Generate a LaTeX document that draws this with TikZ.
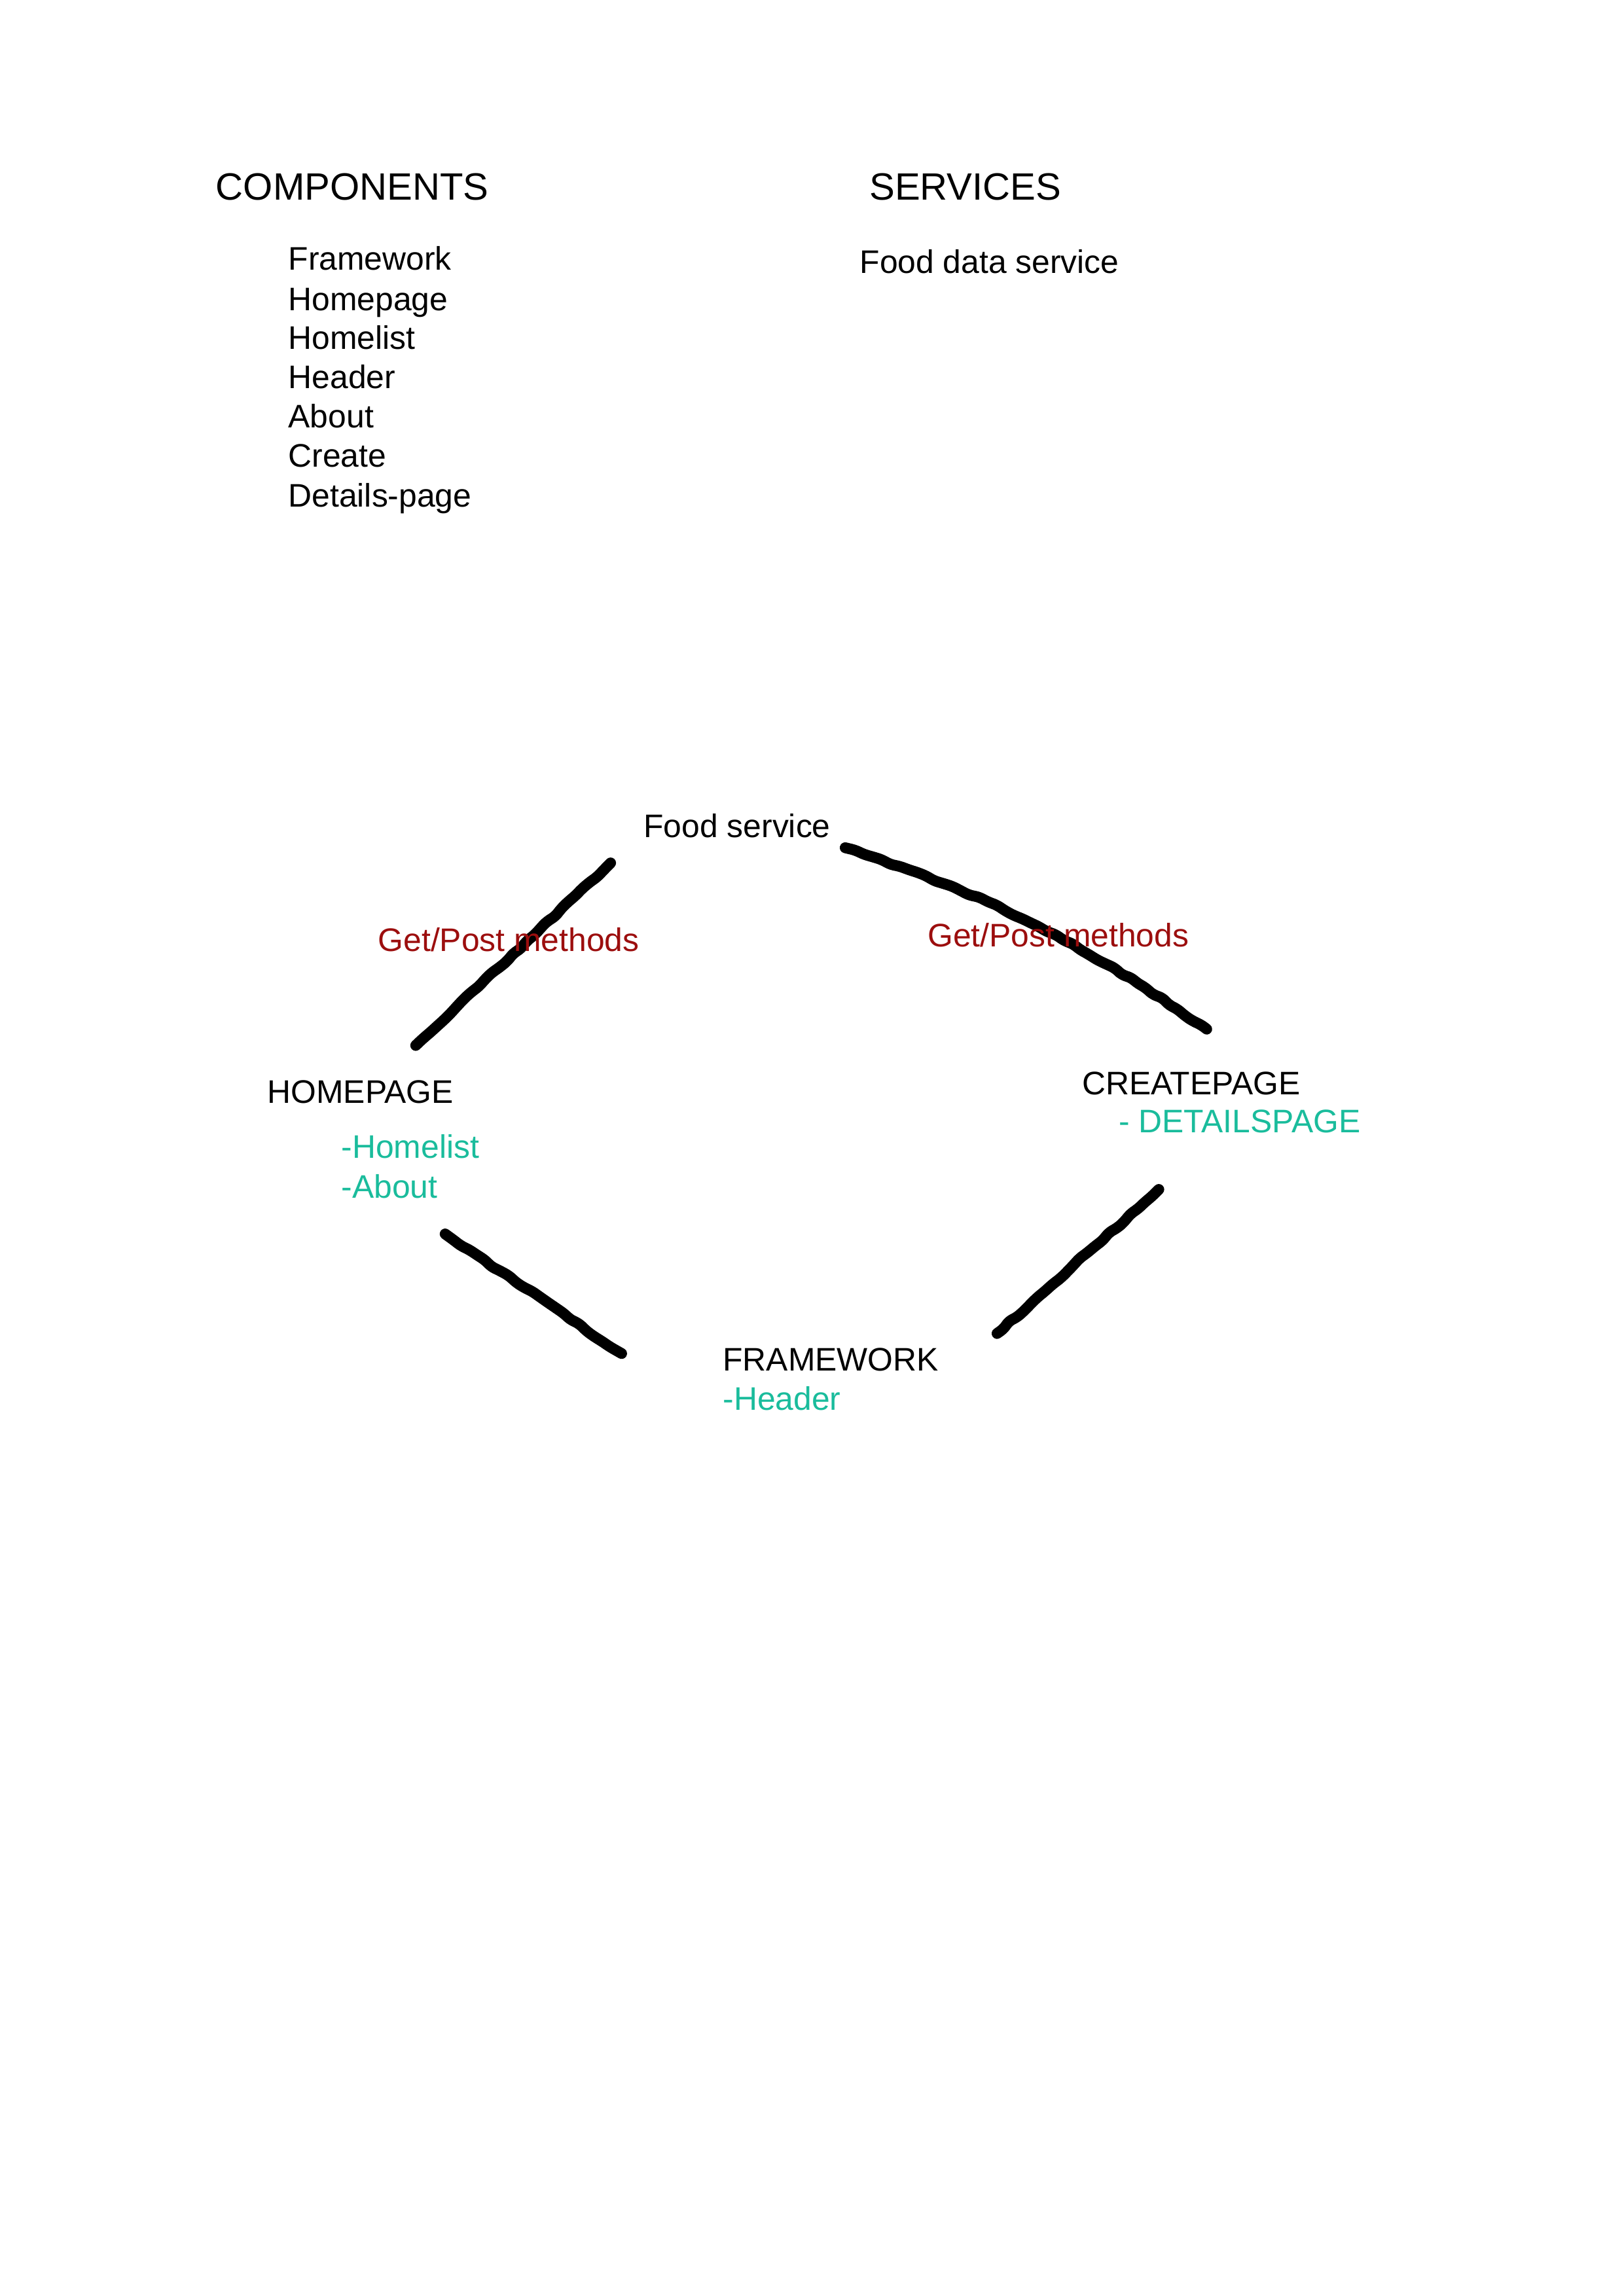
\documentclass[tikz,border=0pt]{standalone}
\usepackage{fontspec}
\setmainfont{Liberation Sans}
\usepackage{tikz}
\usetikzlibrary{positioning, decorations.pathmorphing}
\definecolor{methodred}{RGB}{156,14,14}
\definecolor{subteal}{RGB}{26,188,156}
\tikzset{
    every node/.style={anchor=base west, inner sep=0pt, font=\fontsize{12}{14.5}\selectfont},
    heading/.style={font=\fontsize{14}{17}\selectfont},
    method/.style={text=methodred},
    sub/.style={text=subteal},
    marker/.style={
        draw,
        line width=4pt,
        line cap=round,
        line join=round,
        decorate,
        decoration={random steps, segment length=3.5pt, amplitude=0.5pt},
        rounded corners=1.5pt
    }
}

\begin{document}
\begin{tikzpicture}
	\useasboundingbox (0,0) rectangle (21,-29.7);
	\pgfmathsetseed{11}
	% ends of the hand drawn strokes
	\coordinate (hp-top) at (5.377,-13.523);
	\coordinate (fs-left) at (7.900,-11.160);
	\coordinate (fs-right) at (10.932,-10.966);
	\coordinate (cp-top) at (15.606,-13.311);
	\coordinate (cp-bot) at (14.988,-15.386);
	\coordinate (fw-right) at (12.896,-17.249);
	\coordinate (hp-bot) at (5.758,-15.962);
	\coordinate (fw-left) at (8.044,-17.511);
	\draw[marker] (hp-top) -- (fs-left);
	\draw[marker] (fs-right) to[bend left=8] (cp-top);
	\draw[marker] (cp-bot) -- (fw-right);
	\draw[marker] (hp-bot) -- (fw-left);
	% lists
	\node[heading] at (2.786,-2.583) (components) {COMPONENTS};
	\node[heading] at (11.239,-2.583) (services) {SERVICES};
	\node at (3.724,-3.489) (c-fw) {Framework};
	\node at (3.724,-4.014) (c-hp) {Homepage};
	\node at (3.724,-4.513) (c-hl) {Homelist};
	\node at (3.724,-5.021) (c-hd) {Header};
	\node at (3.724,-5.529) (c-ab) {About};
	\node at (3.724,-6.037) (c-cr) {Create};
	\node at (3.724,-6.554) (c-dp) {Details-page};
	\node at (11.114,-3.531) (s-fd) {Food data service};
	% diagram
	\node at (8.320,-10.830) (foodservice) {Food service};
	\node[method] at (4.884,-12.304) (get-left) {Get/Post methods};
	\node[method] at (11.993,-12.244) (get-right) {Get/Post methods};
	\node at (3.453,-14.268) (homepage) {HOMEPAGE};
	\node[sub] at (4.410,-14.979) (homelist) {-Homelist};
	\node[sub] at (4.410,-15.496) (about) {-About};
	\node at (13.989,-14.158) (createpage) {CREATEPAGE};
	\node[sub] at (14.463,-14.649) (detailspage) {- DETAILSPAGE};
	\node at (9.344,-17.731) (framework) {FRAMEWORK};
	\node[sub] at (9.344,-18.240) (header) {-Header};
\end{tikzpicture}
\end{document}
